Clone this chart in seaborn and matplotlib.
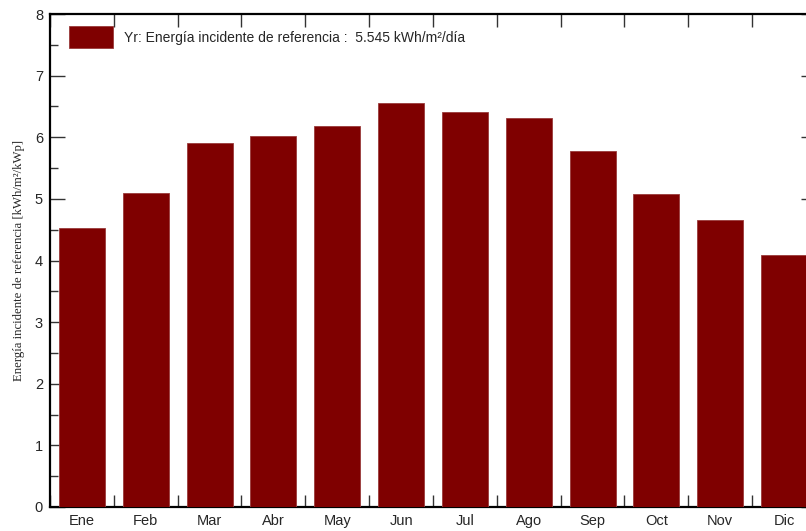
import numpy as np
import matplotlib
matplotlib.use("Agg")
import matplotlib.pyplot as plt
import seaborn as sns
import pandas as pd
from matplotlib.patches import Patch

months = ["Ene", "Feb", "Mar", "Abr", "May", "Jun", "Jul", "Ago", "Sep", "Oct", "Nov", "Dic"]
values = [4.53, 5.10, 5.91, 6.02, 6.19, 6.56, 6.41, 6.31, 5.78, 5.08, 4.66, 4.09]
legend_label = "Yr: Energía incidente de referencia :  5.545 kWh/m²/día"
ylabel = "Energía incidente de referencia [kWh/m²/kWp]"
bar_color = "#7f0000"

sns.set_theme(style="white")
plt.rcParams['font.family'] = ['Liberation Sans', 'DejaVu Sans']

W, H = 806, 531
fig = plt.figure(figsize=(W / 100, H / 100), dpi=100)
left, right, top, bottom = 50, 816, 14, 507
ax = fig.add_axes([left / W, 1 - bottom / H, (right - left) / W, (bottom - top) / H])

df = pd.DataFrame({"mes": months, "valor": values})
sns.barplot(data=df, x="mes", y="valor", color=bar_color, saturation=1, width=0.72,
            edgecolor="#9a3a3a", linewidth=0.6, ax=ax)
for p in ax.patches:
    p.set_zorder(3)

ax.set_xlim(-0.5, 11.5)
ax.set_ylim(0, 8)
ax.set_xlabel("")
ax.set_ylabel(ylabel, family=['Liberation Serif', 'DejaVu Serif'], fontsize=9.2, labelpad=7)

for s in ax.spines.values():
    s.set_visible(True)
    s.set_color("black")
    s.set_linewidth(1.6)
    s.set_zorder(2)

ax.set_yticks(np.arange(0, 9, 1))
ax.set_yticks(np.arange(0.5, 8, 1), minor=True)
ax.set_xticks(np.arange(-0.5, 12, 1), minor=True)
ax.tick_params(axis='y', which='major', direction='in', length=11, width=1, left=True, right=True,
               labelsize=10.5, pad=5, color="#333333")
ax.tick_params(axis='y', which='minor', direction='in', length=6, width=1, left=True, right=True,
               color="#333333")
ax.tick_params(axis='x', which='major', length=0, labelsize=10.5, pad=5)
ax.tick_params(axis='x', which='minor', direction='in', length=9, width=1, top=True, bottom=True,
               color="#333333")

handle = Patch(facecolor=bar_color, edgecolor="#9a3a3a", linewidth=0.6)
ax.legend([handle], [legend_label], loc="upper left", bbox_to_anchor=(19 / 766, 1 - 12 / 493),
          frameon=False, borderpad=0, borderaxespad=0, handlelength=3.2, handleheight=2.1,
          handletextpad=0.75, fontsize=10)

fig.savefig("out.png", dpi=100)
